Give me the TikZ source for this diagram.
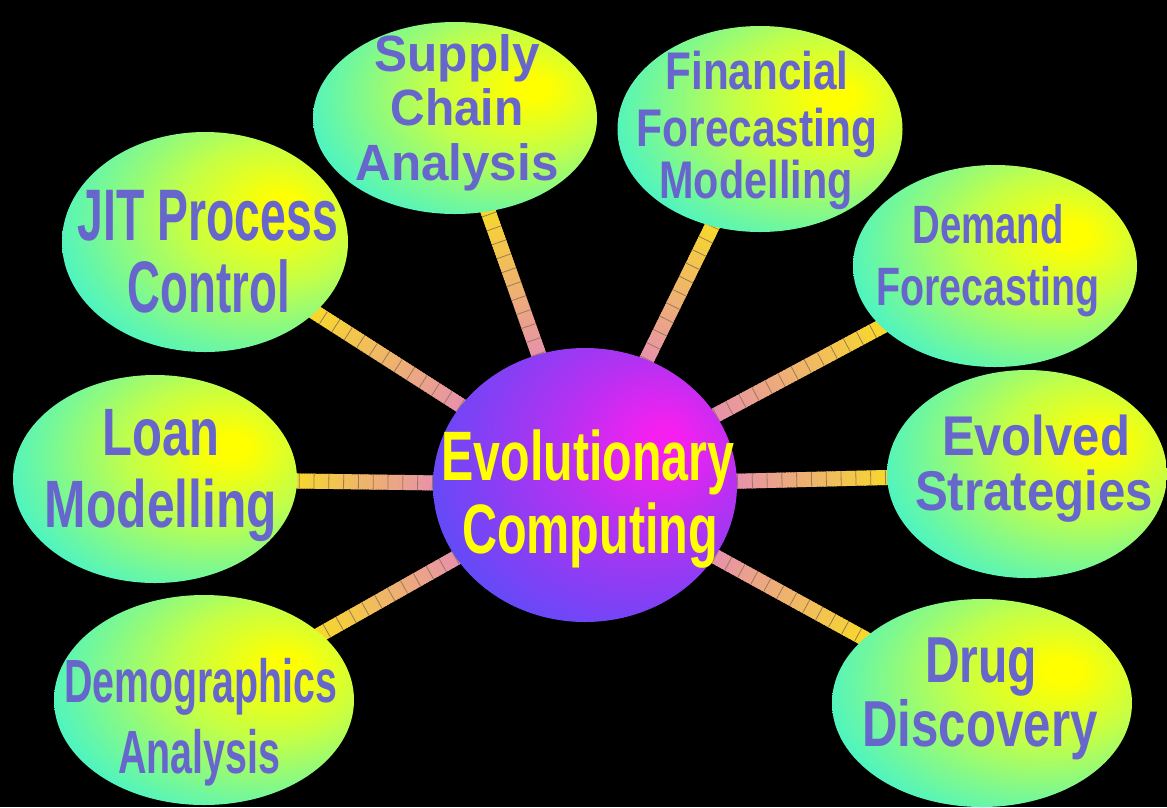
\documentclass[tikz,border=0pt]{standalone}
\usepackage{fontspec}
\usepackage{graphicx}
\setmainfont{Liberation Sans}
\usetikzlibrary{shapes.geometric,calc}
\definecolor{txt}{HTML}{6666CC}
\definecolor{by}{HTML}{FFFF00}
\definecolor{bm}{HTML}{C4FF46}
\definecolor{be}{HTML}{38F2D8}
\definecolor{cm}{HTML}{F520F0}
\definecolor{cmid}{HTML}{B232F2}
\definecolor{ce}{HTML}{5050F8}
\definecolor{cin}{HTML}{E68CB4}
\definecolor{cout}{HTML}{F8DC24}
\definecolor{tick}{HTML}{9A7A5A}
\pgfdeclareradialshading{bubble}{\pgfpoint{14bp}{8bp}}{color(0bp)=(by); color(3bp)=(by); color(16bp)=(bm); color(39bp)=(be); color(100bp)=(be)}
\pgfdeclareradialshading{core}{\pgfpoint{13.5bp}{8.5bp}}{color(0bp)=(cm); color(2.5bp)=(cm); color(16bp)=(cmid); color(40bp)=(ce); color(100bp)=(ce)}
\pgfdeclarelayer{bg}
\pgfsetlayers{bg,main}
\newcommand\wline[3]{{\fontsize{#1}{#1}\selectfont\resizebox{#2pt}{\height}{#3}}}
\newcommand\spoke[1]{%
  \path (ec) -- (#1) coordinate[pos=0] (#1-a) coordinate[pos=1] (#1-b);
  \coordinate (#1-s) at ($(#1-a)!-12pt!(#1-b)$);
  \coordinate (#1-e) at ($(#1-b)!-12pt!(#1-a)$);
  \foreach \i in {0,...,59}{%
    \pgfmathtruncatemacro\p{100-\i*100/59}%
    \pgfmathsetmacro\f{\i/60}%
    \pgfmathsetmacro\g{(\i+1.5)/60}%
    \draw[bar, draw=cin!\p!cout] ($(#1-s)!\f!(#1-e)$) -- ($(#1-s)!\g!(#1-e)$);
  }
  \draw[bar, draw=tick, dash pattern=on 0.8pt off 14pt] (#1-a) -- (#1-b);
}
\tikzset{
  bub/.style={ellipse, shade, shading=bubble, inner sep=0pt, draw=none},
  hub/.style={ellipse, shade, shading=core, inner sep=0pt, draw=none},
  bar/.style={line width=15pt},
  lbl/.style={anchor=base, text=txt, font=\bfseries, inner sep=0pt},
  hlbl/.style={anchor=base, text=by, font=\bfseries, inner sep=0pt}
}
\begin{document}
\begin{tikzpicture}[x=1pt,y=-1pt]
\useasboundingbox (0,0) rectangle (1167,807);
% nodes
\node[hub, minimum width=304pt, minimum height=274pt] (ec) at (585,485) {};
\node[bub, minimum width=284pt, minimum height=192pt] (sca) at (455,118) {};
\node[bub, minimum width=285pt, minimum height=206pt] (fin) at (760,129) {};
\node[bub, minimum width=286pt, minimum height=220pt] (jit) at (205,242) {};
\node[bub, minimum width=284pt, minimum height=202pt] (dem) at (995,266) {};
\node[bub, minimum width=280pt, minimum height=208pt] (evo) at (1027,474) {};
\node[bub, minimum width=284pt, minimum height=208pt] (loan) at (155,479) {};
\node[bub, minimum width=300pt, minimum height=210pt] (demo) at (204,700) {};
\node[bub, minimum width=300pt, minimum height=208pt] (drug) at (982,703) {};
% labels
\node[hlbl] (ec1) at (588,480) {\wline{70}{293}{Evolutionary}};
\node[hlbl] (ec2) at (590,553) {\wline{70}{256}{Computing}};
\node[lbl] (sca1) at (457,71) {\wline{51}{165}{Supply}};
\node[lbl] (sca2) at (457,125) {\wline{51}{133}{Chain}};
\node[lbl] (sca3) at (457,180) {\wline{51}{203}{Analysis}};
\node[lbl] (fin1) at (757,89) {\wline{53}{183}{Financial}};
\node[lbl] (fin2) at (757,146) {\wline{53}{241}{Forecasting}};
\node[lbl] (fin3) at (756,198) {\wline{53}{193}{Modelling}};
\node[lbl] (jit1) at (208,240) {\wline{73}{260}{JIT Process}};
\node[lbl] (jit2) at (209,312) {\wline{73}{162}{Control}};
\node[lbl] (dem1) at (988,243) {\wline{54}{151}{Demand}};
\node[lbl] (dem2) at (988,305) {\wline{54}{223}{Forecasting}};
\node[lbl] (evo1) at (1036,455) {\wline{56}{188}{Evolved}};
\node[lbl] (evo2) at (1034,510) {\wline{56}{238}{Strategies}};
\node[lbl] (loan1) at (161,455) {\wline{67}{117}{Loan}};
\node[lbl] (loan2) at (161,527) {\wline{67}{232}{Modelling}};
\node[lbl] (demo1) at (201,702) {\wline{61}{273}{Demographics}};
\node[lbl] (demo2) at (199,773) {\wline{61}{162}{Analysis}};
\node[lbl] (drug1) at (981,682) {\wline{65}{112}{Drug}};
\node[lbl] (drug2) at (980,746) {\wline{65}{235}{Discovery}};
% background and connectors
\begin{pgfonlayer}{bg}
\fill[black] (0,0) rectangle (1167,807);
\spoke{sca}
\spoke{fin}
\spoke{jit}
\spoke{dem}
\spoke{evo}
\spoke{loan}
\spoke{demo}
\spoke{drug}
\end{pgfonlayer}
\end{tikzpicture}
\end{document}
